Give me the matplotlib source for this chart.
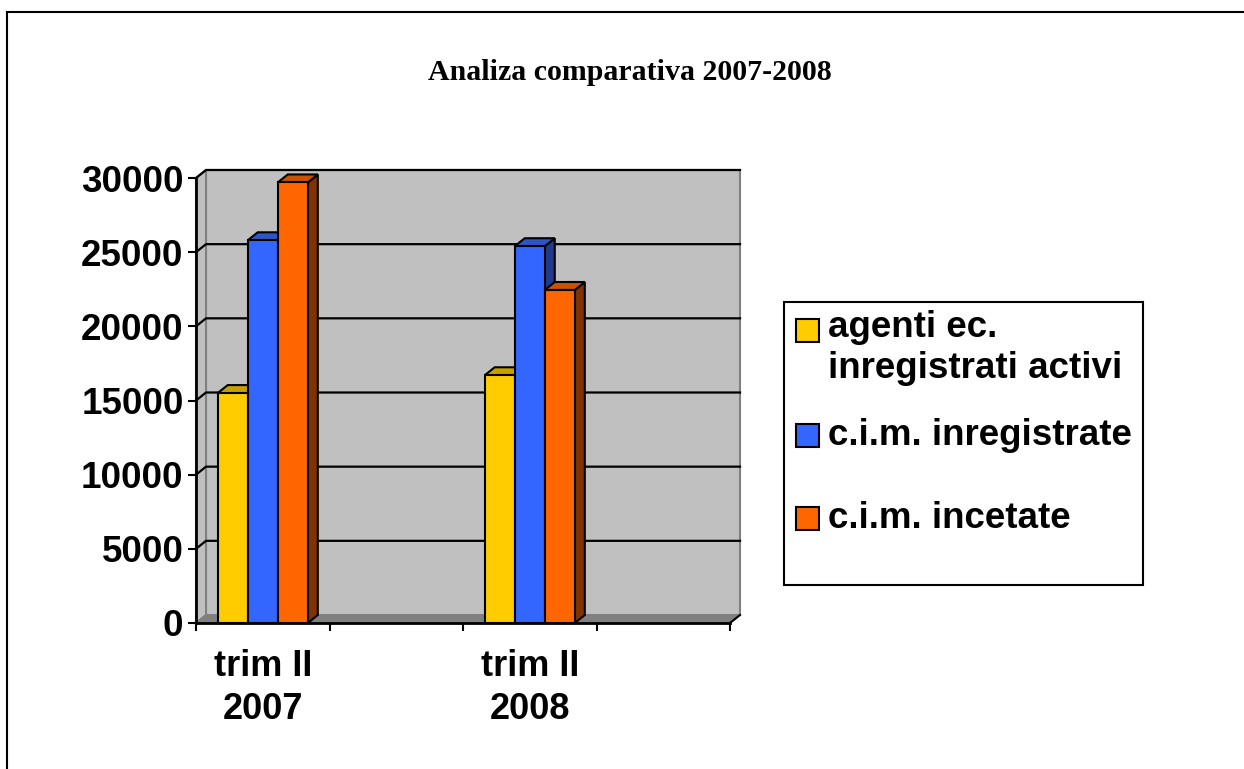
import numpy as np
import matplotlib
matplotlib.use("Agg")
import matplotlib.pyplot as plt
from matplotlib.patches import Polygon, Rectangle
from matplotlib.lines import Line2D

plt.rcParams['font.family'] = ['Liberation Sans', 'DejaVu Sans']

title = 'Analiza comparativa 2007-2008'
categories = ['trim II\n2007', '', 'trim II\n2008', '']
series = ['agenti ec.\ninregistrati activi', 'c.i.m. inregistrate', 'c.i.m. incetate']
agenti = [15500, None, 16700, None]
cim_inreg = [25800, None, 25400, None]
cim_incet = [29700, None, 22450, None]
values = [agenti, cim_inreg, cim_incet]

front = ['#FFCC00', '#3366FF', '#FF6600']
top = ['#C8A000', '#2E55C8', '#CC5200']
side = ['#806600', '#1F3A8F', '#803300']

W, H = 1244, 769
fig = plt.figure(figsize=(W / 100, H / 100), dpi=100)

# axes front plane in pixels
x0, x1 = 196, 730
yb, yt = 623, 178
ax = fig.add_axes([x0 / W, (H - yb) / H, (x1 - x0) / W, (yb - yt) / H])
ax.set_xlim(0, len(categories))
ax.set_ylim(0, 30000)
ax.patch.set_visible(False)

# depth offset (10 px right, 8 px up)
dx = 10 / ((x1 - x0) / len(categories))
dy = 8 / ((yb - yt) / 30000)
n = len(categories)
ymax = 30000

# back wall, side wall, floor
ax.add_patch(Polygon([(dx, dy), (n + dx, dy), (n + dx, ymax + dy), (dx, ymax + dy)],
                     closed=True, fc='#C0C0C0', ec='#808080', lw=1.5, clip_on=False, zorder=0))
ax.add_patch(Polygon([(0, 0), (dx, dy), (dx, ymax + dy), (0, ymax)],
                     closed=True, fc='#C0C0C0', ec='#808080', lw=1.5, clip_on=False, zorder=0))
ax.add_patch(Polygon([(0, 0), (n, 0), (n + dx, dy), (dx, dy)],
                     closed=True, fc='#808080', ec='#808080', lw=1, clip_on=False, zorder=1))
ax.plot([n, n + dx], [0, dy], color='black', lw=1.5, clip_on=False, zorder=1)

# gridlines on walls
yticks = np.arange(5000, 30001, 5000)
for v in yticks:
    ax.plot([0, dx, n + dx], [v, v + dy, v + dy], color='black', lw=1.6, clip_on=False, zorder=1)

# bars
bw = 0.225
for c in range(n):
    for s in range(len(series)):
        v = values[s][c]
        if v is None:
            continue
        xl = c + 0.5 - 1.5 * bw + s * bw
        xr = xl + bw
        ax.add_patch(Polygon([(xr, 0), (xr + dx, dy), (xr + dx, v + dy), (xr, v)],
                             closed=True, fc=side[s], ec='black', lw=1.5, clip_on=False, zorder=3))
        ax.add_patch(Polygon([(xl, v), (xr, v), (xr + dx, v + dy), (xl + dx, v + dy)],
                             closed=True, fc=top[s], ec='black', lw=1.5, clip_on=False, zorder=3))
        ax.add_patch(Rectangle((xl, 0), bw, v, fc=front[s], ec='black', lw=1.5,
                               clip_on=False, zorder=3))

# axes
for sp in ['top', 'right']:
    ax.spines[sp].set_visible(False)
ax.spines['left'].set_linewidth(2)
ax.spines['bottom'].set_linewidth(2)
ax.spines['left'].set_zorder(5)
ax.spines['bottom'].set_zorder(5)
ax.set_yticks(np.arange(0, 30001, 5000))
ax.set_yticklabels([str(v) for v in range(0, 30001, 5000)], fontsize=26.5, fontweight='bold')
ax.tick_params(axis='y', direction='out', length=6, width=1.5, pad=3)
ax.set_xticks(np.arange(0, n + 1))
ax.set_xticklabels([])
ax.tick_params(axis='x', which='major', direction='out', length=6, width=1.5)
ax.set_xticks(np.arange(n) + 0.5, minor=True)
ax.set_xticklabels(categories, minor=True, fontsize=26, fontweight='bold', linespacing=1.3)
ax.tick_params(axis='x', which='minor', length=0, pad=19)

# title
fig.text(630 / W, 1 - 72 / H, title, ha='center', va='center', fontsize=21.5,
         fontweight='bold', family=['Liberation Serif', 'DejaVu Serif'])

# legend drawn by hand
lx0, ly0, lx1, ly1 = 784, 302, 1143, 585
fig.patches.append(Rectangle((lx0 / W, 1 - ly1 / H), (lx1 - lx0) / W, (ly1 - ly0) / H,
                             transform=fig.transFigure, fc='white', ec='black', lw=1.5))
sq_y = [331, 436, 519]
base_y = [337, 445, 528]
for s, name in enumerate(series):
    fig.patches.append(Rectangle((796 / W, 1 - (sq_y[s] + 11) / H), 23 / W, 23 / H,
                                 transform=fig.transFigure, fc=front[s], ec='black', lw=1.5))
    for k, line in enumerate(name.split('\n')):
        fig.text(828 / W, 1 - (base_y[s] + 41 * k) / H, line, ha='left', va='baseline',
                 fontsize=26.5, fontweight='bold')

# outer frame (left and top edges)
fig.add_artist(Line2D([7.5 / W, 7.5 / W], [0, 1 - 11.5 / H], color='black', lw=1.5))
fig.add_artist(Line2D([7.5 / W, 1], [1 - 11.5 / H, 1 - 11.5 / H], color='black', lw=1.5))

fig.savefig('out.png', dpi=100)
